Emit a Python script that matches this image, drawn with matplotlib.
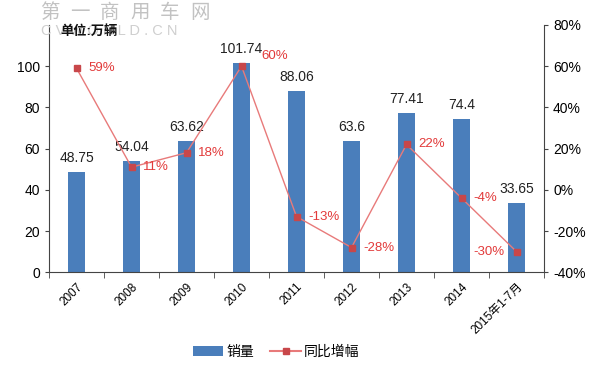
import matplotlib.pyplot as plt
from matplotlib.lines import Line2D
from matplotlib.patches import Patch
from matplotlib.ticker import FuncFormatter, FixedLocator

plt.rcParams["font.family"] = ["Liberation Sans", "Noto Sans CJK SC", "DejaVu Sans"]

categories = ["2007", "2008", "2009", "2010", "2011", "2012", "2013", "2014", "2015年1-7月"]
sales = [48.75, 54.04, 63.62, 101.74, 88.06, 63.6, 77.41, 74.4, 33.65]
growth = [59, 11, 18, 60, -13, -28, 22, -4, -30]
sales_labels = ["48.75", "54.04", "63.62", "101.74", "88.06", "63.6", "77.41", "74.4", "33.65"]

BAR_COLOR = "#4a7ebb"
LINE_COLOR = "#e87a7a"
MARKER_COLOR = "#c8474a"
TEXT_RED = "#e23a3a"

fig = plt.figure(figsize=(6, 3.84), dpi=100)
ax = fig.add_axes([0.0817, 0.291, 0.825, 0.644])
ax2 = ax.twinx()

x = list(range(len(categories)))
ax.bar(x, sales, width=0.3, color=BAR_COLOR, zorder=2)
for xi, v, lab in zip(x, sales, sales_labels):
    ax.annotate(lab, (xi, v), xytext=(0, 5), textcoords="offset points",
                ha="center", va="bottom", fontsize=10, color="#222222")

ax2.plot(x, growth, color=LINE_COLOR, lw=1.0, marker="s", markersize=5,
         markerfacecolor=MARKER_COLOR, markeredgecolor=MARKER_COLOR, zorder=3)
for i, (xi, g) in enumerate(zip(x, growth)):
    if i == len(x) - 1:
        off, ha = (-9, 0), "right"
    elif i == 3:
        off, ha = (14, 7), "left"
    else:
        off, ha = (8.5, 0), "left"
    ax2.annotate(f"{g}%", (xi, g), xytext=off, textcoords="offset points",
                 ha=ha, va="center", fontsize=9.5, color=TEXT_RED)

ax.set_xlim(-0.5, len(x) - 0.5)
ax.set_ylim(0, 120)
ax.set_yticks([0, 20, 40, 60, 80, 100])
ax2.set_ylim(-40, 80)
ax2.set_yticks(range(-40, 81, 20))
ax2.yaxis.set_major_formatter(FuncFormatter(lambda v, p: f"{int(v)}%"))

ax.set_xticks(x)
ax.set_xticklabels(categories, rotation=45, ha="right", rotation_mode="anchor", fontsize=8.5)
ax.tick_params(axis="x", length=0, pad=6)
ax.xaxis.set_minor_locator(FixedLocator([i - 0.5 for i in range(len(x) + 1)]))
ax.tick_params(axis="x", which="minor", length=4, direction="out", color="#444444")
ax.tick_params(axis="y", labelsize=10, length=3, color="#444444")
ax2.tick_params(axis="y", labelsize=10, length=3, color="#444444")

for a in (ax, ax2):
    a.spines["top"].set_visible(False)
    for s in ("left", "right", "bottom"):
        a.spines[s].set_color("#444444")
ax.spines["right"].set_visible(False)
ax2.spines["left"].set_visible(False)
ax2.spines["bottom"].set_visible(False)

# watermark (behind the unit label, as in the source image)
for k, ch in enumerate("第一商用车网"):
    fig.text(0.083 + k * 0.05, 0.966, ch, fontsize=14, color="#c2c2c2",
             ha="center", va="center")
fig.text(0.068, 0.918, "C V W O R L D . C N", fontsize=10.5, color="#cfcfcf",
         ha="left", va="center")

fig.text(0.1, 0.918, "单位:万辆", fontsize=9.5, fontweight="bold", color="#111111",
         ha="left", va="center")

handles = [Patch(facecolor=BAR_COLOR), Line2D([0], [0], color=LINE_COLOR, marker="s",
                                                   markerfacecolor=MARKER_COLOR,
                                                   markeredgecolor=MARKER_COLOR, markersize=5)]
fig.legend(handles, ["销量", "同比增幅"], loc="center", bbox_to_anchor=(0.46, 0.083),
           ncol=2, frameon=False, fontsize=10, handlelength=2.2, columnspacing=1.2,
           handletextpad=0.2)

fig.savefig("out.png", dpi=100)
